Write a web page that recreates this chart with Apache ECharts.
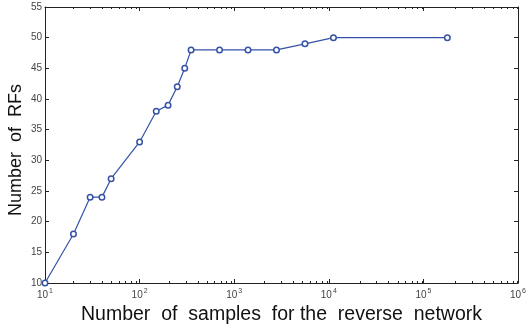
<!DOCTYPE html>
<html>
<head>
<meta charset="utf-8">
<script src="https://cdn.jsdelivr.net/npm/echarts@6/dist/echarts.min.js"></script>
<style>html,body{margin:0;padding:0;background:#fff}#c{width:529px;height:331px}</style>
</head>
<body>
<div id="c"></div>
<script>
var samples = [10, 20, 30, 40, 50, 100, 150, 200, 250, 300, 350, 700, 1400, 2800, 5600, 11200, 179200];
var numRFs = [10, 18, 24, 24, 27, 33, 38, 39, 42, 45, 48, 48, 48, 48, 49, 50, 50];
var xMajorTicks = [10, 100, 1000, 10000, 100000, 1000000];
var xMinorTicks = [];
for (var d = 10; d < 1000000; d *= 10) { for (var m = 2; m <= 9; m++) xMinorTicks.push(m * d); }
var yTicks = [10, 15, 20, 25, 30, 35, 40, 45, 50, 55];

var FONT = 'Liberation Sans';
var gridBox = {left: 45, right: 7, top: 7, bottom: 48};
var axisLine = {show: true, lineStyle: {color: '#222', width: 1}};

function supLabel(v) {
  var e = Math.round(Math.log10(v));
  return '{b|10}{s|' + e + '}';
}
var richSup = {
  b: {fontSize: 10, color: '#444', fontFamily: FONT},
  s: {fontSize: 7, color: '#444', fontFamily: FONT, padding: [0, 0, 7, 1]}
};

var chart = echarts.init(document.getElementById('c'), null, {renderer: 'canvas'});
chart.setOption({
  animation: false,
  backgroundColor: '#fff',
  grid: [
    Object.assign({}, gridBox),
    Object.assign({}, gridBox)
  ],
  xAxis: [
    {
      type: 'log', logBase: 10, min: 10, max: 1000000, gridIndex: 0, position: 'bottom',
      axisLine: axisLine,
      axisTick: {show: true, inside: true, length: 4, lineStyle: {color: '#222'}, customValues: xMajorTicks},
      axisLabel: {show: true, formatter: supLabel, rich: richSup, margin: 5, customValues: xMajorTicks},
      splitLine: {show: false},
      name: 'Number  of  samples  for the  reverse  network',
      nameLocation: 'middle', nameGap: 21,
      nameTextStyle: {fontSize: 19.5, color: '#111', fontFamily: FONT, verticalAlign: 'top'}
    },
    {
      type: 'log', logBase: 10, min: 10, max: 1000000, gridIndex: 0, position: 'top',
      axisLine: axisLine,
      axisTick: {show: true, inside: true, length: 4, lineStyle: {color: '#222'}, customValues: xMajorTicks},
      axisLabel: {show: false},
      splitLine: {show: false}
    },
    {
      type: 'log', logBase: 10, min: 10, max: 1000000, gridIndex: 1, position: 'bottom',
      axisLine: {show: false},
      axisTick: {show: true, inside: true, length: 2, lineStyle: {color: '#222'}, customValues: xMinorTicks},
      axisLabel: {show: false},
      splitLine: {show: false}
    },
    {
      type: 'log', logBase: 10, min: 10, max: 1000000, gridIndex: 1, position: 'top',
      axisLine: {show: false},
      axisTick: {show: true, inside: true, length: 2, lineStyle: {color: '#222'}, customValues: xMinorTicks},
      axisLabel: {show: false},
      splitLine: {show: false}
    }
  ],
  yAxis: [
    {
      type: 'value', min: 10, max: 55, interval: 5, gridIndex: 0, position: 'left',
      axisLine: axisLine,
      axisTick: {show: true, inside: true, length: 4, lineStyle: {color: '#222'}},
      axisLabel: {show: true, fontSize: 10, color: '#444', fontFamily: FONT, margin: 3},
      splitLine: {show: false}
    },
    {
      type: 'value', min: 10, max: 55, interval: 5, gridIndex: 0, position: 'right',
      axisLine: axisLine,
      axisTick: {show: true, inside: true, length: 4, lineStyle: {color: '#222'}},
      axisLabel: {show: false},
      splitLine: {show: false}
    },
    {
      type: 'value', min: 10, max: 55, gridIndex: 1, show: false
    }
  ],
  graphic: [
    {
      type: 'text', rotation: Math.PI / 2,
      x: 16, y: 150,
      style: {text: 'Number  of  RFs', fontSize: 18, fill: '#111', fontFamily: FONT,
              textAlign: 'center', textVerticalAlign: 'middle'}
    }
  ],
  series: [
    {
      type: 'line',
      xAxisIndex: 0, yAxisIndex: 0,
      data: samples.map(function (s, i) { return [s, numRFs[i]]; }),
      symbol: 'circle', symbolSize: 5.5, showAllSymbol: true,
      lineStyle: {color: '#3552a6', width: 1.2},
      itemStyle: {color: '#fff', borderColor: '#3552a6', borderWidth: 1.5},
      emphasis: {disabled: true}
    }
  ]
});
</script>
</body>
</html>
